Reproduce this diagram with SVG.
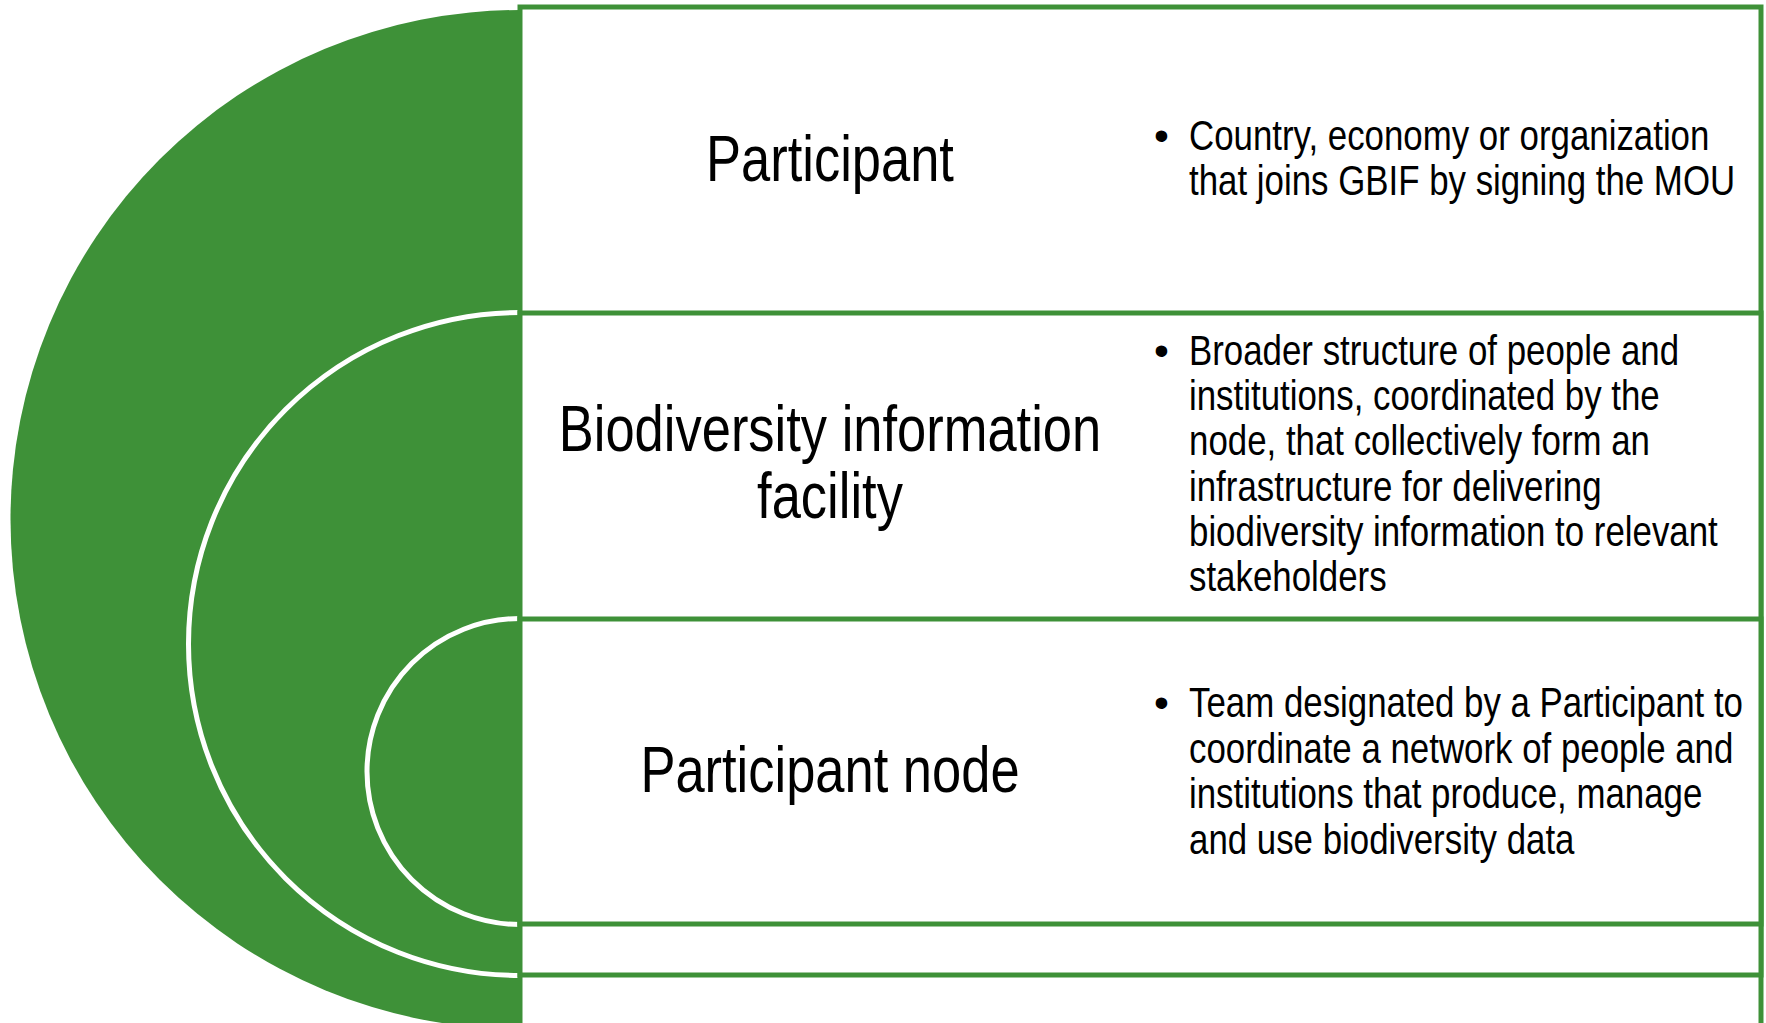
<svg xmlns="http://www.w3.org/2000/svg" width="1766" height="1023" viewBox="0 0 1766 1023">
<style>
.disc{fill:#3E9138;}
.ring{fill:#3E9138;stroke:#FFFFFF;stroke-width:5;}
.box{fill:#FFFFFF;stroke:#3E9138;stroke-width:5;}
.title{font-family:"Liberation Sans","Arial",sans-serif;font-size:64px;fill:#000000;text-anchor:middle;}
.body{font-family:"Liberation Sans","Arial",sans-serif;font-size:42.5px;fill:#000000;}
</style>
<g id="arcs">
<circle class="disc" cx="520" cy="519.5" r="509.5"/>
<circle class="ring" cx="520" cy="644" r="331.5"/>
<circle class="ring" cx="520" cy="771.5" r="153"/>
</g>
<g id="node-participant">
<rect class="box" x="520" y="7" width="1241" height="1040"/>
<text class="title" transform="translate(830,181) scale(0.82,1)" x="0" y="0">Participant</text>
<text class="body" x="1154" y="150">•</text>
<text class="body" transform="translate(1189,0) scale(0.82,1)"><tspan x="0" y="150">Country, economy or organization</tspan><tspan x="0" y="195">that joins GBIF by signing the MOU</tspan></text>
</g>
<g id="node-facility">
<rect class="box" x="520" y="313" width="1241" height="662"/>
<text class="title" transform="translate(830,0) scale(0.82,1)"><tspan x="0" y="451">Biodiversity information</tspan><tspan x="0" y="518">facility</tspan></text>
<text class="body" x="1154" y="365">•</text>
<text class="body" transform="translate(1189,0) scale(0.82,1)"><tspan x="0" y="365">Broader structure of people and</tspan><tspan x="0" y="410">institutions, coordinated by the</tspan><tspan x="0" y="455">node, that collectively form an</tspan><tspan x="0" y="501">infrastructure for delivering</tspan><tspan x="0" y="546">biodiversity information to relevant</tspan><tspan x="0" y="591">stakeholders</tspan></text>
</g>
<g id="node-participant-node">
<rect class="box" x="520" y="619" width="1241" height="305"/>
<text class="title" transform="translate(830,792) scale(0.82,1)" x="0" y="0">Participant node</text>
<text class="body" x="1154" y="717">•</text>
<text class="body" transform="translate(1189,0) scale(0.82,1)"><tspan x="0" y="717">Team designated by a Participant to</tspan><tspan x="0" y="763">coordinate a network of people and</tspan><tspan x="0" y="808">institutions that produce, manage</tspan><tspan x="0" y="854">and use biodiversity data</tspan></text>
</g>
<g id="connectors"></g>
</svg>
